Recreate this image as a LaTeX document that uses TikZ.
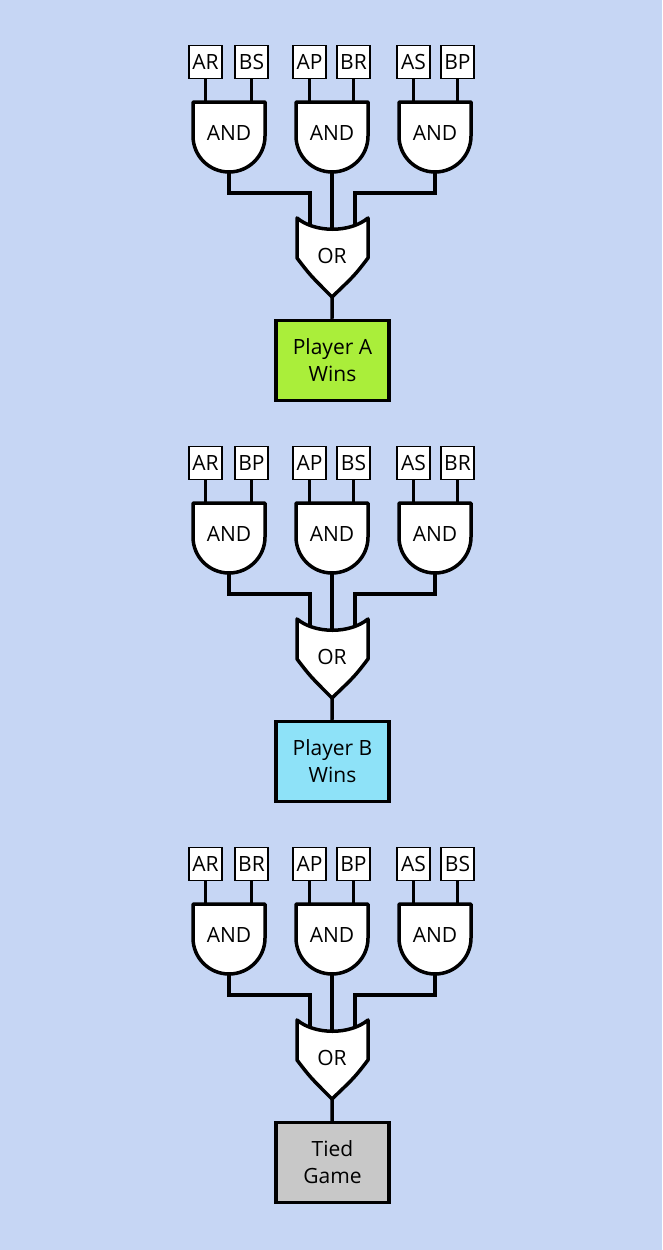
\documentclass[tikz,border=0pt]{standalone}
\usepackage{fontspec}
\setmainfont{Open Sans}
\usepackage{tikz}

\definecolor{bgblue}{RGB}{198,214,244}
\definecolor{winA}{RGB}{170,238,58}
\definecolor{winB}{RGB}{142,226,248}
\definecolor{tie}{RGB}{200,200,200}

\tikzset{
  wire/.style={line width=3.5pt},
  gate/.style={line width=3.5pt, fill=white, line join=round},
  pin/.style={draw, line width=1.5pt, fill=white, minimum width=33pt, minimum height=33pt, inner sep=0pt, font=\fontsize{21}{21}\selectfont},
  gatetext/.style={font=\fontsize{21}{21}\selectfont},
  result/.style={draw, line width=3.5pt, minimum width=113pt, minimum height=80pt, align=center, font=\fontsize{21}{27}\selectfont}
}

\begin{document}
\begin{tikzpicture}[x=1pt,y=-1pt]
\fill[bgblue] (0,0) rectangle (662,1250);
\useasboundingbox (0,0) rectangle (662,1250);

\foreach \b/\yo/\p/\q/\r/\res/\col in {1/0/BS/BR/BP/{Player A\\Wins}/winA,
                                       2/401/BP/BS/BR/{Player B\\Wins}/winB,
                                       3/802/BR/BP/BS/{Tied\\Game}/tie}{
\begin{scope}[yshift=-\yo pt]
% input boxes
\node[pin] (in\b-1) at (205.5,62) {AR};
\node[pin] (in\b-2) at (251.5,62) {\p};
\node[pin] (in\b-3) at (309.5,62) {AP};
\node[pin] (in\b-4) at (353.5,62) {\q};
\node[pin] (in\b-5) at (413.5,62) {AS};
\node[pin] (in\b-6) at (457.5,62) {\r};
% gate pins
\foreach \i/\x in {1/205.5,2/251.5,3/309.5,4/353.5,5/413.5,6/457.5}
  \coordinate (g\b-\i) at (\x,104);
\foreach \j/\c in {1/229,2/332,3/435}
  \coordinate (out\b-\j) at (\c,170);
\coordinate (or\b-1) at (310,230);
\coordinate (or\b-2) at (332,234);
\coordinate (or\b-3) at (355,230);
\coordinate (orout\b) at (332,295);
% wires
\foreach \i in {1,...,6}
  \draw[wire] (in\b-\i) -- (g\b-\i);
\draw[wire] (out\b-1) |- (310,193) -- (or\b-1);
\draw[wire] (out\b-2) -- (or\b-2);
\draw[wire] (out\b-3) |- (355,193) -- (or\b-3);
% AND gates
\foreach \j/\c in {1/229,2/332,3/435}{
  \draw[gate] (\c-36,102) -- (\c+36,102) -- (\c+36,136) arc (0:180:36) -- cycle;
  \node[gatetext] (and\b-\j) at (\c,133) {AND};
}
% OR gate
\draw[gate] (297,218) .. controls (315,233) and (350,233) .. (368,218)
  -- (368,258) .. controls (355,275) .. (332,297) .. controls (310,275) .. (297,258) -- cycle;
\node[gatetext] (or\b) at (332,256) {OR};
% result
\node[result, fill=\col] (res\b) at (332.5,360.5) {\res};
\draw[wire] (orout\b) -- (res\b);
\end{scope}
}
\end{tikzpicture}
\end{document}
